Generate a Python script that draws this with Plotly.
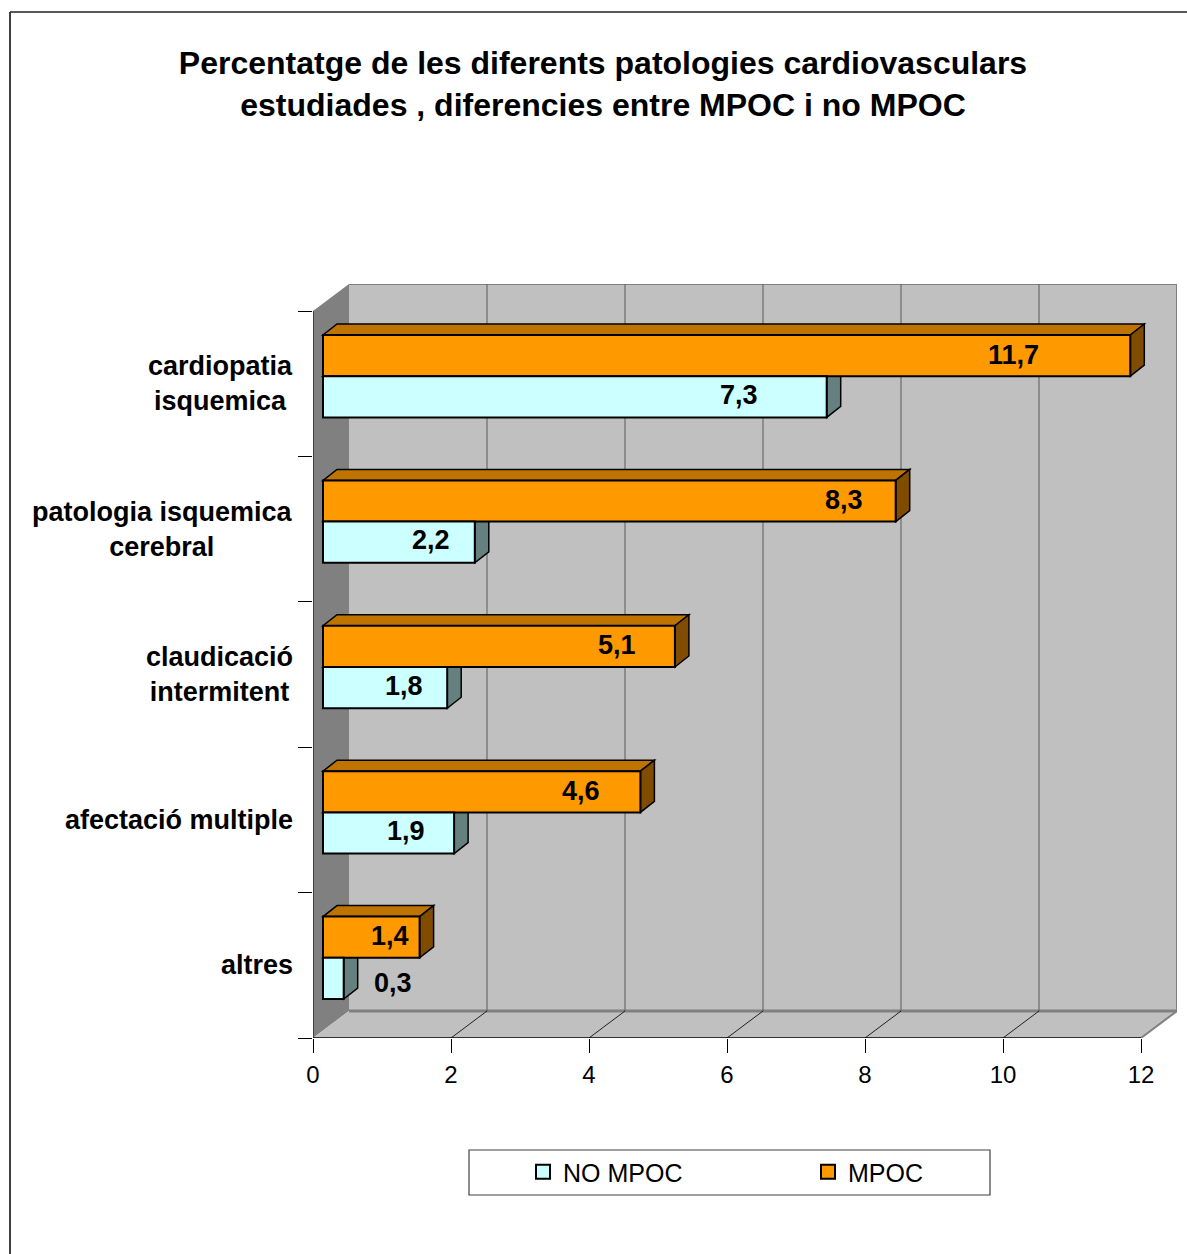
import plotly.graph_objects as go

# ---- data -------------------------------------------------------------
categories = [
    "cardiopatia<br>isquemica",
    "patologia isquemica<br>cerebral",
    "claudicació<br>intermitent",
    "afectació multiple",
    "altres",
]
no_mpoc = [7.3, 2.2, 1.8, 1.9, 0.3]
mpoc = [11.7, 8.3, 5.1, 4.6, 1.4]
x_ticks = [0, 2, 4, 6, 8, 10, 12]
series_names = ["NO MPOC", "MPOC"]

# ---- geometry (pixels) -----------------------------------------------
W, H = 1187, 1254
FRONT_L, FRONT_R = 313, 1141          # front x-axis from 0 to 12
FRONT_T, FRONT_B = 311, 1038          # front category band edges
DEPTH_X, DEPTH_Y = 36, 27             # perspective offset of the back wall
BAR_SHIFT_X, BAR_SHIFT_Y = 10, 7.5    # bars sit a little behind the front plane
BAR_DX, BAR_DY = 14, 11               # bar depth
BARGAP = 0.433

n = len(categories)
PX_PER_X = (FRONT_R - FRONT_L) / x_ticks[-1]
PX_PER_Y = (FRONT_B - FRONT_T) / n
PLOT_L, PLOT_R = FRONT_L, FRONT_R + DEPTH_X
PLOT_T, PLOT_B = FRONT_T - DEPTH_Y, FRONT_B

x_max = (PLOT_R - PLOT_L) / PX_PER_X
y_top = -0.5 - DEPTH_Y / PX_PER_Y
y_bot = n - 0.5
dx_wall = DEPTH_X / PX_PER_X
dy_wall = DEPTH_Y / PX_PER_Y
sx = BAR_SHIFT_X / PX_PER_X
sy = BAR_SHIFT_Y / PX_PER_Y
bdx = BAR_DX / PX_PER_X
bdy = BAR_DY / PX_PER_Y
bw = (1 - BARGAP) / 2

FONT = "Liberation Sans, Arial, sans-serif"
ORANGE, ORANGE_TOP, ORANGE_SIDE = "#FF9900", "#BF7300", "#7F4C00"
CYAN, CYAN_TOP, CYAN_SIDE = "#CCFFFF", "#99BFBF", "#668080"
WALL, WALL_DARK, GRID = "#C0C0C0", "#808080", "#5A5A5A"


def pxx(p):
    return (p - PLOT_L) / (PLOT_R - PLOT_L)


def pxy(p):
    return (PLOT_B - p) / (PLOT_B - PLOT_T)


fig = go.Figure()

# bars (front faces)
fig.add_trace(go.Bar(
    name=series_names[1], y=categories, x=mpoc, orientation="h",
    marker=dict(color=ORANGE, line=dict(color="black", width=2)),
    xaxis="x2", yaxis="y2", hoverinfo="x+y", showlegend=False,
))
fig.add_trace(go.Bar(
    name=series_names[0], y=categories, x=no_mpoc, orientation="h",
    marker=dict(color=CYAN, line=dict(color="black", width=2)),
    xaxis="x2", yaxis="y2", hoverinfo="x+y", showlegend=False,
))
# legend keys
for name, col in zip(series_names, [CYAN, ORANGE]):
    fig.add_trace(go.Scatter(
        name=name, x=[None], y=[None], mode="markers",
        marker=dict(symbol="square", size=14, color=col, line=dict(color="black", width=2)),
        xaxis="x2", yaxis="y2", showlegend=True, hoverinfo="skip",
    ))

shapes = []


def poly(pts, fill, line_color=None, line_width=0, xref="x", yref="y", layer="below"):
    path = "M " + " L ".join(f"{x:.5f},{y:.5f}" for x, y in pts) + " Z"
    shapes.append(dict(type="path", path=path, xref=xref, yref=yref,
                       fillcolor=fill, layer=layer,
                       line=dict(color=line_color or fill, width=line_width)))


def seg(x0, y0, x1, y1, color, width, xref="x", yref="y", layer="below"):
    shapes.append(dict(type="line", x0=x0, y0=y0, x1=x1, y1=y1, xref=xref, yref=yref,
                       layer=layer, line=dict(color=color, width=width)))


# back wall, left wall, floor
poly([(dx_wall, y_top), (x_max, y_top), (x_max, y_bot - dy_wall), (dx_wall, y_bot - dy_wall)], WALL)
poly([(0, -0.5), (dx_wall, y_top), (dx_wall, y_bot - dy_wall), (0, y_bot)], WALL_DARK)
poly([(0, y_bot), (dx_wall, y_bot - dy_wall), (x_max, y_bot - dy_wall), (x_ticks[-1], y_bot)], WALL)

# wall edges
seg(dx_wall, y_top, x_max, y_top, WALL_DARK, 2)
seg(x_max, y_top, x_max, y_bot - dy_wall, WALL_DARK, 2)
seg(dx_wall, y_bot - dy_wall, x_max, y_bot - dy_wall, WALL_DARK, 3)
seg(x_ticks[-1], y_bot, x_max, y_bot - dy_wall, WALL_DARK, 2)

# gridlines on the back wall and their continuation on the floor
for t in x_ticks[1:-1]:
    seg(t + dx_wall, y_top, t + dx_wall, y_bot - dy_wall, GRID, 1)
    seg(t, y_bot, t + dx_wall, y_bot - dy_wall, "#202020", 1)

# front axis lines
seg(0, y_bot, x_ticks[-1], y_bot, "black", 1.5)
seg(0, -0.5, 0, y_bot, "black", 1)

# 3-D faces of the bars
for i, v in enumerate(mpoc):
    top = i - bw
    poly([(0, top), (v, top), (v + bdx, top - bdy), (bdx, top - bdy)], ORANGE_TOP,
         "black", 1.5, "x2", "y2")
    poly([(v, top), (v + bdx, top - bdy), (v + bdx, i - bdy), (v, i)], ORANGE_SIDE,
         "black", 1.5, "x2", "y2")
for i, v in enumerate(no_mpoc):
    top = i
    poly([(0, top), (v, top), (v + bdx, top - bdy), (bdx, top - bdy)], CYAN_TOP,
         "black", 1.5, "x2", "y2")
    poly([(v, top), (v + bdx, top - bdy), (v + bdx, top + bw - bdy), (v, top + bw)], CYAN_SIDE,
         "black", 1.5, "x2", "y2")

# outer frame of the chart
shapes.append(dict(type="line", xref="paper", yref="paper",
                   x0=pxx(10), y0=pxy(12), x1=pxx(10), y1=pxy(H + 5),
                   line=dict(color="#404040", width=2)))
shapes.append(dict(type="line", xref="paper", yref="paper",
                   x0=pxx(10), y0=pxy(12), x1=pxx(W + 5), y1=pxy(12),
                   line=dict(color="#202020", width=1.5)))
# legend box
shapes.append(dict(type="rect", xref="paper", yref="paper",
                   x0=pxx(469), y0=pxy(1150), x1=pxx(990), y1=pxy(1195),
                   line=dict(color="#404040", width=1.2), fillcolor="white", layer="below"))

annotations = []
# category labels
for i, c in enumerate(categories):
    annotations.append(dict(
        x=0, y=i, xref="x", yref="y", text=f"<b>{c}</b>", showarrow=False,
        xanchor="right", yanchor="middle", align="center", xshift=-18,
        font=dict(family=FONT, size=27, color="black"),
    ))

# value labels (nudged in pixels relative to the bar end)
mpoc_nudge = [-117, -52, -58, -59, -30]
no_mpoc_nudge = [-88, -44, -43, -48, 49]
for i, v in enumerate(mpoc):
    annotations.append(dict(
        x=v, y=i - bw / 2, xref="x2", yref="y2", text=f"<b>{v:.1f}</b>".replace(".", ","),
        showarrow=False, xanchor="center", yanchor="middle", xshift=mpoc_nudge[i], yshift=1,
        font=dict(family=FONT, size=27, color="black"),
    ))
for i, v in enumerate(no_mpoc):
    annotations.append(dict(
        x=v, y=i + bw / 2, xref="x2", yref="y2", text=f"<b>{v:.1f}</b>".replace(".", ","),
        showarrow=False, xanchor="center", yanchor="middle", xshift=no_mpoc_nudge[i],
        yshift=-5 if v < 1 else 2,
        font=dict(family=FONT, size=27, color="black"),
    ))

fig.update_layout(
    width=W, height=H,
    margin=dict(l=PLOT_L, r=W - PLOT_R, t=PLOT_T, b=H - PLOT_B, pad=0),
    paper_bgcolor="white", plot_bgcolor="rgba(0,0,0,0)",
    title=dict(
        text="<b>Percentatge de les diferents patologies cardiovasculars<br>"
             "estudiades , diferencies entre MPOC i no MPOC</b>",
        x=603 / W, xref="container", xanchor="center",
        y=1 - 74 / H, yref="container", yanchor="top",
        font=dict(family=FONT, size=32, color="black"),
    ),
    barmode="group", bargap=BARGAP, bargroupgap=0,
    showlegend=True,
    legend=dict(
        orientation="h", traceorder="normal",
        x=pxx(523), y=pxy(1172), xanchor="left", yanchor="middle",
        bgcolor="rgba(0,0,0,0)", borderwidth=0,
        entrywidth=240, entrywidthmode="pixels",
        font=dict(family=FONT, size=25, color="black"),
    ),
    xaxis=dict(
        range=[0, x_max], tickvals=x_ticks, ticks="outside", ticklen=14,
        tickcolor="black", tickwidth=1, showgrid=False, zeroline=False, showline=False,
        tickfont=dict(family=FONT, size=24, color="black"), ticklabelstandoff=1,
        fixedrange=True,
    ),
    yaxis=dict(
        range=[y_bot, y_top], tickvals=[k - 0.5 for k in range(n + 1)], ticks="outside",
        ticklen=14, tickcolor="black", tickwidth=1, showticklabels=False,
        showgrid=False, zeroline=False, showline=False, fixedrange=True,
    ),
    xaxis2=dict(
        overlaying="x", range=[-sx, x_max - sx], visible=False, fixedrange=True,
    ),
    yaxis2=dict(
        overlaying="y", type="category", categoryorder="array", categoryarray=categories,
        range=[y_bot + sy, y_top + sy], visible=False, fixedrange=True,
    ),
    shapes=shapes,
    annotations=annotations,
)

fig.write_html("out.html")
